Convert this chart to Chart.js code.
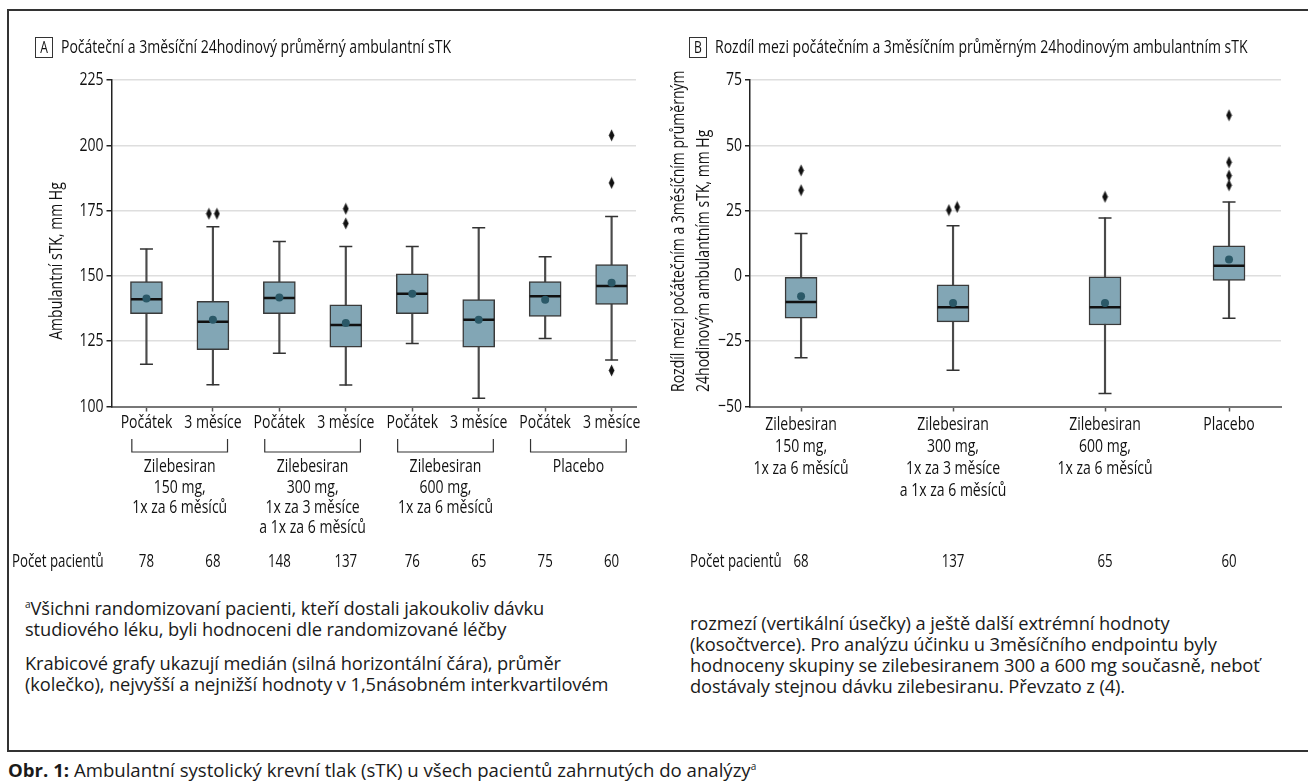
<!DOCTYPE html>
<html lang="cs">
<head>
<meta charset="utf-8">
<script src="https://cdn.jsdelivr.net/npm/chart.js@4.4.1/dist/chart.umd.min.js"></script>
<style>
  html, body { margin: 0; padding: 0; background: #fff; }
  #page { position: relative; width: 1308px; height: 783px; overflow: hidden; background: #fff;
          font-family: 'Open Sans', sans-serif; color: #1a1a1a; }
  .frame { position: absolute; left: 7px; top: 9px; width: 1320px; height: 739px;
           border-left: 2px solid #333; border-top: 2px solid #333; border-bottom: 2px solid #333; }
  canvas { position: absolute; top: 0; }
  #chartA { left: 0; }
  #chartB { left: 654px; }
  .note { position: absolute; font-size: 18.3px; line-height: 21px; white-space: nowrap; letter-spacing: -0.1px; }
  .sup { font-size: 10px; vertical-align: 7px; }
  .caption { position: absolute; left: 8px; top: 753px; font-size: 18.6px; line-height: 26px; white-space: nowrap; }
</style>
</head>
<body>
<div id="page">
  <div class="frame"></div>
  <canvas id="chartA" width="654" height="590"></canvas>
  <canvas id="chartB" width="654" height="590"></canvas>
  <div class="note" style="left:25px; top:594px"><span class="sup">a</span>Všichni randomizovaní pacienti, kteří dostali jakoukoliv dávku<br>studiového léku, byli hodnoceni dle randomizované léčby</div>
  <div class="note" style="left:25px; top:652px">Krabicové grafy ukazují medián (silná horizontální čára), průměr<br>(kolečko), nejvyšší a nejnižší hodnoty v 1,5násobném interkvartilovém</div>
  <div class="note" style="left:690px; top:612px">rozmezí (vertikální úsečky) a ještě další extrémní hodnoty<br>(kosočtverce). Pro analýzu účinku u 3měsíčního endpointu byly<br>hodnoceny skupiny se zilebesiranem 300 a 600 mg současně, neboť<br>dostávaly stejnou dávku zilebesiranu. Převzato z (4).</div>
  <div class="caption"><b>Obr. 1:</b> Ambulantní systolický krevní tlak (sTK) u všech pacientů zahrnutých do analýzy<span class="sup">a</span></div>
</div>
<script>
// panel A: baseline and 3-month ambulatory SBP
const titleA = 'Počáteční a 3měsíční 24hodinový průměrný ambulantní sTK';
const yTitleA = ['Ambulantní sTK, mm Hg'];
const timeLabelsA = ['Počátek', '3 měsíce', 'Počátek', '3 měsíce', 'Počátek', '3 měsíce', 'Počátek', '3 měsíce'];
const groupLabelsA = [
  ['Zilebesiran', '150 mg,', '1x za 6 měsíců'],
  ['Zilebesiran', '300 mg,', '1x za 3 měsíce', 'a 1x za 6 měsíců'],
  ['Zilebesiran', '600 mg,', '1x za 6 měsíců'],
  ['Placebo']
];
const patientsA = [78, 68, 148, 137, 76, 65, 75, 60];
const lowA    = [116.2, 108.3, 120.4, 108.2, 124.1, 103.2, 126.0, 117.8];
const q1A     = [135.5, 121.8, 135.5, 122.7, 135.5, 122.7, 134.5, 139.1];
const medianA = [141.1, 132.4, 141.5, 131.2, 143.2, 133.2, 142.2, 146.1];
const meanA   = [141.3, 133.2, 141.7, 132.0, 143.2, 133.2, 140.9, 147.4];
const q3A     = [147.8, 140.3, 147.8, 138.9, 150.8, 140.9, 147.8, 154.3];
const highA   = [160.3, 168.8, 163.2, 161.3, 161.3, 168.4, 157.3, 172.7];
const outliersA = [[], [173.8, 173.8], [], [175.7, 170.1], [], [], [], [203.8, 185.6, 113.8]];
const yTicksA = [100, 125, 150, 175, 200, 225];

// panel B: change from baseline at 3 months
const titleB = 'Rozdíl mezi počátečním a 3měsíčním průměrným 24hodinovým ambulantním sTK';
const yTitleB = ['Rozdíl mezi počátečním a 3měsíčním průměrným', '24hodinovým ambulantním sTK, mm Hg'];
const groupLabelsB = [
  ['Zilebesiran', '150 mg,', '1x za 6 měsíců'],
  ['Zilebesiran', '300 mg,', '1x za 3 měsíce', 'a 1x za 6 měsíců'],
  ['Zilebesiran', '600 mg,', '1x za 6 měsíců'],
  ['Placebo']
];
const patientsB = [68, 137, 65, 60];
const lowB    = [-31.3, -36.1, -45.0, -16.2];
const q1B     = [-16.2, -17.6, -18.8, -1.7];
const medianB = [-10.0, -12.0, -12.0, 3.9];
const meanB   = [-7.8, -10.4, -10.4, 6.3];
const q3B     = [-0.5, -3.4, -0.4, 11.5];
const highB   = [16.2, 19.2, 22.2, 28.3];
const outliersB = [[40.4, 32.8], [25.2, 26.4], [30.3], [61.5, 43.5, 38.4, 34.7]];
const yTicksB = [-50, -25, 0, 25, 50, 75];

const FONT = "'Open Sans', sans-serif";
const FS = 18.5;
const BOX_FILL = '#82a6b5';
const MEAN_FILL = '#2b5968';
const INK = '#111';

// no condensed face is installed, so chart text is squeezed horizontally
// until the panel A heading has the width it has in the print
const SX = (() => {
  const g = document.createElement('canvas').getContext('2d');
  g.font = FS + 'px ' + FONT;
  return 390 / g.measureText(titleA).width;
})();

function text(ctx, str, x, y, opt = {}) {
  ctx.save();
  ctx.translate(x, y);
  if (opt.rotate) ctx.rotate(-Math.PI / 2);
  ctx.scale(SX, 1);
  ctx.font = (opt.size || FS) + 'px ' + FONT;
  ctx.fillStyle = INK;
  ctx.textAlign = opt.align || 'center';
  ctx.textBaseline = 'middle';
  ctx.fillText(str, 0, 0);
  ctx.restore();
}

function diamondImage() {
  const c = document.createElement('canvas');
  c.width = 7; c.height = 13;
  const g = c.getContext('2d');
  g.fillStyle = '#111';
  g.beginPath();
  g.moveTo(3.5, 0.5); g.lineTo(6.3, 6.5); g.lineTo(3.5, 12.5); g.lineTo(0.7, 6.5);
  g.closePath();
  g.fill();
  return c;
}
const diamond = diamondImage();

function boxDatasets(xs, low, q1, med, mean, q3, high, outliers, jitter) {
  const pts = arr => arr.map((v, i) => ({ x: xs[i], y: v }));
  const outPts = [];
  outliers.forEach((list, i) => list.forEach((v, k) => {
    // two nearly equal outliers are shown side by side
    const m = list.findIndex((w, j) => j !== k && Math.abs(w - v) < 2);
    const dx = m < 0 ? 0 : (m > k ? -jitter : jitter);
    outPts.push({ x: xs[i] + dx, y: v });
  }));
  return [
    { type: 'bar', data: xs.map((x, i) => ({ x, y: [low[i], high[i]] })), backgroundColor: '#4a4a4a',
      barThickness: 1.5, grouped: false, order: 5 },
    { type: 'bar', data: xs.map((x, i) => ({ x, y: [q1[i], q3[i]] })), backgroundColor: BOX_FILL,
      borderColor: '#3a3a3a', borderWidth: 1.5, borderSkipped: false, barThickness: 32, grouped: false, order: 4 },
    { type: 'scatter', data: pts(low).concat(pts(high)), pointStyle: 'line', pointRadius: 6.5,
      pointBorderColor: '#333', pointBorderWidth: 1.5, order: 3 },
    { type: 'scatter', data: pts(med), pointStyle: 'line', pointRadius: 15.5,
      pointBorderColor: INK, pointBorderWidth: 2.5, order: 2 },
    { type: 'scatter', data: pts(mean), pointStyle: 'circle', pointRadius: 4,
      pointBackgroundColor: MEAN_FILL, pointBorderWidth: 0, order: 1 },
    { type: 'scatter', data: outPts, pointStyle: diamond, order: 0 }
  ];
}

// all texts of a panel, placed from the chart's scales
const panelText = {
  id: 'panelText',
  afterDraw(chart, args, o) {
    const { ctx } = chart;
    const x = chart.scales.x, y = chart.scales.y;

    // heading with the letter box
    ctx.save();
    ctx.strokeStyle = '#333';
    ctx.lineWidth = 1;
    ctx.strokeRect(o.tagX + 0.5, 37.5, 17, 20);
    ctx.restore();
    text(ctx, o.tag, o.tagX + 9, 48, { size: 16 });
    text(ctx, o.title, o.tagX + 26, 47.5, { align: 'left' });

    // y ticks
    y.ticks.forEach(t => {
      const v = t.value;
      text(ctx, v < 0 ? '\u2212' + Math.abs(v) : String(v), y.right - 8, y.getPixelForValue(v), { align: 'right' });
    });
    // y title
    o.yTitle.forEach((line, k) => {
      if (o.yTitleStart) text(ctx, line, o.yTitleX + k * 25, o.yTitleStart, { rotate: true, align: 'left' });
      else text(ctx, line, o.yTitleX + k * 25, o.yTitleMid, { rotate: true });
    });

    // x tick labels (one or more lines)
    o.tickLabels.forEach((lab, i) => {
      [].concat(lab).forEach((line, k) => text(ctx, line, x.getPixelForValue(o.xs[i]), o.tickY + k * 22));
    });

    // group brackets and labels below the ticks
    (o.groups || []).forEach((lines, g) => {
      const a = x.getPixelForValue(2 * g), b = x.getPixelForValue(2 * g + 1);
      const l = x.getPixelForValue(2 * g - 0.22), r = x.getPixelForValue(2 * g + 1.22);
      ctx.save();
      ctx.strokeStyle = '#333';
      ctx.lineWidth = 1.2;
      ctx.beginPath();
      ctx.moveTo(l, 439); ctx.lineTo(l, 452); ctx.lineTo(r, 452); ctx.lineTo(r, 439);
      ctx.stroke();
      ctx.restore();
      lines.forEach((t, k) => text(ctx, t, (a + b) / 2, 467 + k * 20.3));
    });

    // patient numbers
    o.counts.forEach((n, i) => text(ctx, String(n), x.getPixelForValue(o.xs[i]), 562, { size: 17.5 }));
    text(ctx, 'Počet pacientů', o.countLabelX, 562, { size: 17.5, align: 'left' });
  }
};

function makeChart(id, p) {
  return new Chart(document.getElementById(id), {
    type: 'bar',
    data: { datasets: boxDatasets(p.xs, p.low, p.q1, p.med, p.mean, p.q3, p.high, p.outliers, p.jitter) },
    options: {
      responsive: false,
      animation: false,
      events: [],
      layout: { padding: { top: 80, left: 0, right: p.padRight, bottom: 590 - 406.5 - 30 } },
      scales: {
        x: {
          type: 'linear', min: p.xMin, max: p.xMax, offset: false,
          afterBuildTicks: s => { s.ticks = p.xs.map(v => ({ value: v })); },
          afterFit: s => { s.height = 30; },
          grid: { drawOnChartArea: false, offset: false, tickColor: '#555', tickLength: 5, tickWidth: 1.5 },
          border: { color: '#777', width: 2 },
          ticks: { display: false }
        },
        y: {
          min: p.yTicks[0], max: p.yTicks[p.yTicks.length - 1],
          afterBuildTicks: s => { s.ticks = p.yTicks.map(v => ({ value: v })); },
          afterFit: s => { s.width = p.yWidth; },
          grid: { color: '#dedede', lineWidth: 1.5, tickColor: '#222', tickLength: 5 },
          border: { color: '#222', width: 1.5 },
          ticks: { display: false }
        }
      },
      plugins: {
        legend: { display: false },
        tooltip: { enabled: false },
        panelText: p
      }
    },
    plugins: [panelText]
  });
}

makeChart('chartA', {
  xs: timeLabelsA.map((_, i) => i), xMin: -0.526, xMax: 7.367, jitter: 0.06,
  low: lowA, q1: q1A, med: medianA, mean: meanA, q3: q3A, high: highA, outliers: outliersA,
  tickLabels: timeLabelsA, tickY: 423, yTicks: yTicksA, yWidth: 111.5, padRight: 11,
  tag: 'A', tagX: 35, title: titleA,
  yTitle: yTitleA, yTitleX: 56.5, yTitleMid: 261,
  groups: groupLabelsA, counts: patientsA, countLabelX: 12
});

makeChart('chartB', {
  xs: [0, 1, 2, 2.816], xMin: -0.336, xMax: 3.158, jitter: 0.027,
  low: lowB, q1: q1B, med: medianB, mean: meanB, q3: q3B, high: highB, outliers: outliersB,
  tickLabels: groupLabelsB, tickY: 425, yTicks: yTicksB, yWidth: 96, padRight: 27,
  tag: 'B', tagX: 35, title: titleB,
  yTitle: yTitleB, yTitleX: 24.6, yTitleStart: 392,
  groups: null, counts: patientsB, countLabelX: 36
});
</script>
</body>
</html>
